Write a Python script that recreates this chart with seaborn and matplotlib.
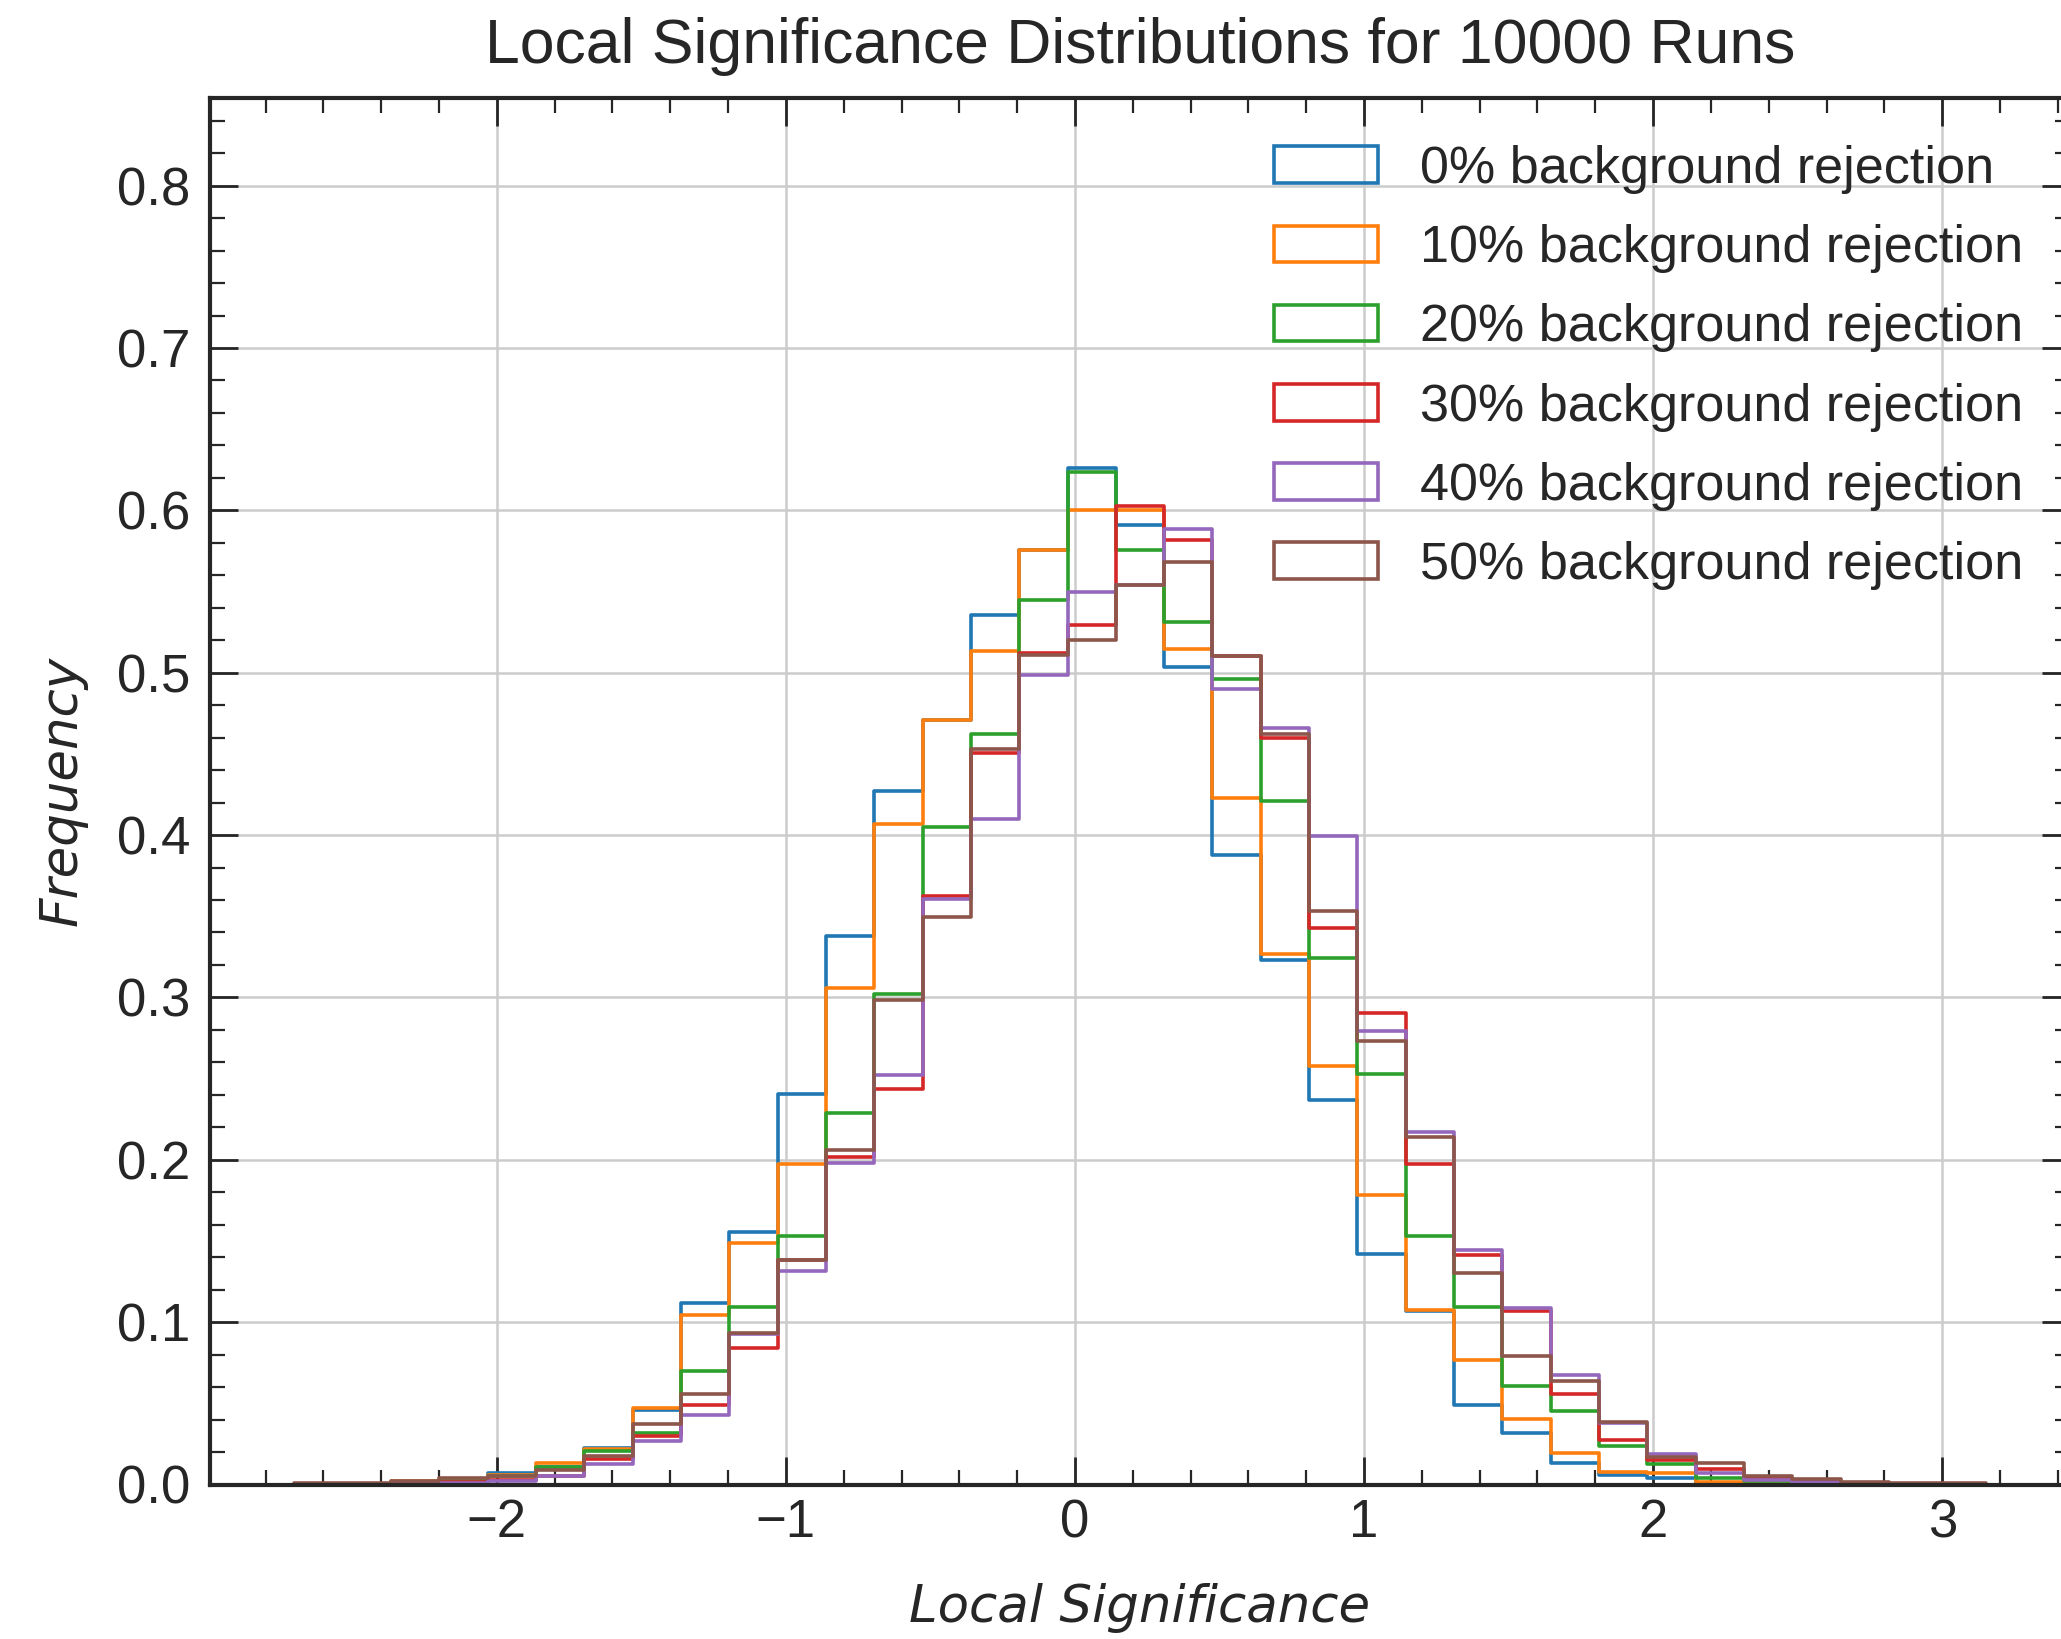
import numpy as np
import pandas as pd
import matplotlib
matplotlib.use("Agg")
import matplotlib.pyplot as plt
from matplotlib.patches import Patch
from matplotlib.ticker import MultipleLocator
import seaborn as sns

# Common histogram binning (35 bins)
bin_edges = list(np.linspace(-2.70, 3.15, 36))

labels = [
    "0% background rejection",
    "10% background rejection",
    "20% background rejection",
    "30% background rejection",
    "40% background rejection",
    "50% background rejection",
]

# Normalised frequency per bin for each background-rejection level
freq_0 = [0.0, 0.0, 0.0005, 0.0015, 0.0068, 0.0109, 0.0225, 0.046, 0.1115, 0.1556,
          0.2406, 0.3378, 0.427, 0.471, 0.5358, 0.5757, 0.6259, 0.5911, 0.5036, 0.388,
          0.323, 0.237, 0.1417, 0.107, 0.0491, 0.0316, 0.0134, 0.006, 0.0037, 0.001,
          0.0005, 0.0, 0.0, 0.0, 0.0]
freq_10 = [0.0, 0.0005, 0.002, 0.002, 0.006, 0.0135, 0.022, 0.0471, 0.1045, 0.1487,
           0.1973, 0.3057, 0.4067, 0.471, 0.5132, 0.5757, 0.6003, 0.600, 0.5149, 0.4227,
           0.327, 0.2576, 0.1781, 0.1074, 0.0766, 0.0401, 0.0194, 0.0075, 0.0068, 0.0016,
           0.0005, 0.0, 0.0, 0.0, 0.0]
freq_20 = [0.0, 0.0, 0.001, 0.002, 0.005, 0.0105, 0.0205, 0.032, 0.0699, 0.1092,
           0.1531, 0.229, 0.302, 0.4047, 0.462, 0.545, 0.6238, 0.5757, 0.531, 0.4964,
           0.421, 0.3245, 0.2527, 0.1531, 0.1094, 0.0608, 0.045, 0.024, 0.0128, 0.004,
           0.002, 0.001, 0.0005, 0.0, 0.0]
freq_30 = [0.0, 0.0, 0.001, 0.0016, 0.003, 0.005, 0.016, 0.030, 0.0492, 0.0838,
           0.1385, 0.202, 0.2438, 0.3626, 0.4507, 0.512, 0.5296, 0.6024, 0.5819, 0.51,
           0.460, 0.3427, 0.2904, 0.1973, 0.1415, 0.1069, 0.056, 0.0276, 0.015, 0.0094,
           0.004, 0.002, 0.001, 0.0005, 0.0]
freq_40 = [0.0, 0.0, 0.0005, 0.001, 0.002, 0.005, 0.0128, 0.027, 0.0427, 0.093,
           0.1312, 0.1981, 0.2523, 0.3608, 0.4098, 0.4989, 0.550, 0.554, 0.5886, 0.490,
           0.466, 0.3995, 0.2795, 0.217, 0.1446, 0.109, 0.0673, 0.038, 0.019, 0.0068,
           0.003, 0.0015, 0.0005, 0.0, 0.0]
freq_50 = [0.001, 0.001, 0.002, 0.0037, 0.0055, 0.009, 0.0174, 0.037, 0.056, 0.0934,
           0.138, 0.2059, 0.2985, 0.3495, 0.453, 0.511, 0.5204, 0.5542, 0.5685, 0.5101,
           0.462, 0.3535, 0.2734, 0.2139, 0.130, 0.0794, 0.0637, 0.0385, 0.0167, 0.0135,
           0.005, 0.0035, 0.0015, 0.0012, 0.001]

series = [freq_0, freq_10, freq_20, freq_30, freq_40, freq_50]
colors = ["#1f77b4", "#ff7f0e", "#2ca02c", "#d62728", "#9467bd", "#8c564b"]

edges_arr = np.asarray(bin_edges)
bin_centers = 0.5 * (edges_arr[:-1] + edges_arr[1:])

sns.set_style("white")
plt.rcParams["font.family"] = ["Liberation Sans", "DejaVu Sans"]
plt.rcParams["axes.unicode_minus"] = True

DPI = 100
fig = plt.figure(figsize=(2061 / DPI, 1639 / DPI), dpi=DPI)
W, H = 2061, 1639
ax_left, ax_right, ax_top, ax_bottom = 210, 2070, 98, 1484.5
ax = fig.add_axes([ax_left / W, 1 - ax_bottom / H,
                   (ax_right - ax_left) / W, (ax_bottom - ax_top) / H])

for lab, vals, col in zip(labels, series, colors):
    df = pd.DataFrame({"significance": bin_centers, "freq": vals})
    sns.histplot(data=df, x="significance", weights="freq", bins=bin_edges,
                 element="step", fill=False, color=col, linewidth=2.6, ax=ax)

ax.set_xlim(-2.992, 3.442)
ax.set_ylim(0, 0.854)

ax.xaxis.set_major_locator(MultipleLocator(1))
ax.xaxis.set_minor_locator(MultipleLocator(0.2))
ax.yaxis.set_major_locator(MultipleLocator(0.1))
ax.yaxis.set_minor_locator(MultipleLocator(0.02))

ax.grid(True, which="major", color="#cccccc", linewidth=1.8)
ax.set_axisbelow(True)

ax.tick_params(which="both", direction="in", top=True, right=True,
               bottom=True, left=True, colors="#262626")
ax.tick_params(which="major", length=20, width=2.0, labelsize=38)
ax.tick_params(which="minor", length=11, width=1.6)
ax.tick_params(axis="x", which="major", pad=10)
ax.tick_params(axis="y", which="major", pad=14)

for sp in ax.spines.values():
    sp.set_visible(True)
    sp.set_color("#262626")
    sp.set_linewidth(3.0)

ax.set_title("Local Significance Distributions for 10000 Runs",
             fontsize=45, color="#262626", pad=25)
ax.set_xlabel("Local Significance", fontsize=37, family="DejaVu Sans",
              style="italic", color="#262626", labelpad=25)
ax.set_ylabel("Frequency", fontsize=37, family="DejaVu Sans",
              style="italic", color="#262626", labelpad=21)

handles = [Patch(facecolor="none", edgecolor=c, linewidth=2.6) for c in colors]
ax.legend(handles, labels, loc="upper right", frameon=False, fontsize=37.5,
          labelspacing=0.58, handlelength=2.0, handletextpad=0.8)

fig.savefig("out.png", dpi=DPI)
